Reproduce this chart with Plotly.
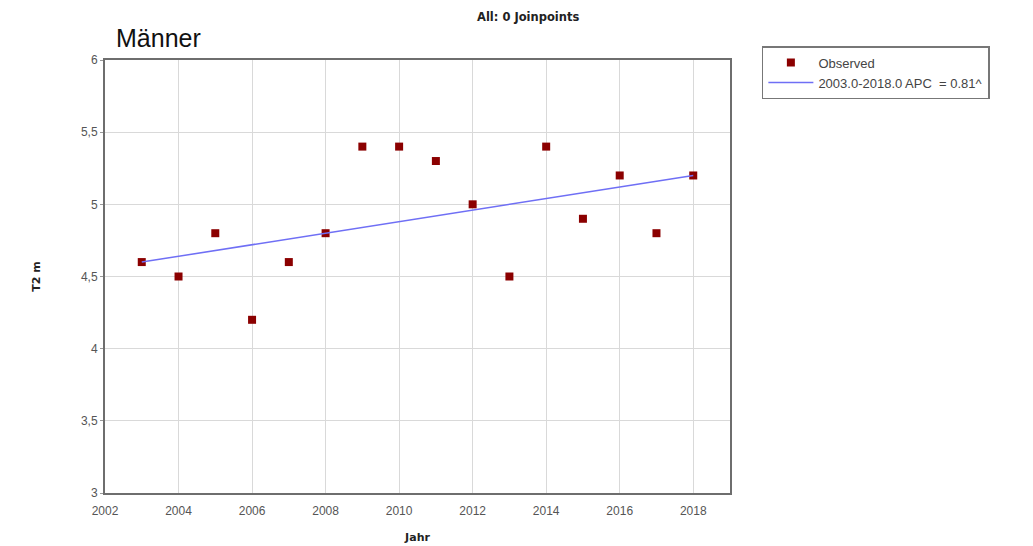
import plotly.graph_objects as go

# Observed values per year
years = [2003, 2004, 2005, 2006, 2007, 2008, 2009, 2010,
         2011, 2012, 2013, 2014, 2015, 2016, 2017, 2018]
observed = [4.6, 4.5, 4.8, 4.2, 4.6, 4.8, 5.4, 5.4,
            5.3, 5.0, 4.5, 5.4, 4.9, 5.2, 4.8, 5.2]

# Fitted segment (0 joinpoints)
fit_years = [2003, 2018]
fit_values = [4.60, 5.20]
fit_label = "2003.0-2018.0 APC  = 0.81^"

x_ticks = list(range(2002, 2019, 2))
y_ticks = [3, 3.5, 4, 4.5, 5, 5.5, 6]
y_tick_text = ["3", "3,5", "4", "4,5", "5", "5,5", "6"]

fig = go.Figure()
fig.add_trace(go.Scatter(
    x=years, y=observed, mode="markers", name="Observed",
    marker=dict(symbol="square", size=8, color="#8b0000"),
))
fig.add_trace(go.Scatter(
    x=fit_years, y=fit_values, mode="lines", name=fit_label,
    line=dict(color="#6f6ff5", width=1.5),
))

tick_font = dict(family="Liberation Sans, Arial", size=12, color="#555")
bold_font = dict(family="DejaVu Sans", size=11, color="#222")

fig.update_layout(
    width=1033, height=546,
    margin=dict(l=105, r=303, t=60, b=53),
    paper_bgcolor="white", plot_bgcolor="white",
    showlegend=True,
    legend=dict(
        x=1.051, y=1.032, xanchor="left", yanchor="top",
        bordercolor="#777", borderwidth=1.5, bgcolor="white",
        font=dict(family="Liberation Sans, Arial", size=13, color="#444"),
        tracegroupgap=0, itemwidth=45,
    ),
    xaxis=dict(
        range=[2002, 2019], tickvals=x_ticks, ticks="",
        ticklabelstandoff=6, automargin=False,
        showgrid=True, gridcolor="#d9d9d9", gridwidth=1.2,
        showline=True, linecolor="#6e6e6e", linewidth=2, mirror=True,
        tickfont=tick_font, zeroline=False,
        title=dict(text="<b>Jahr</b>", font=bold_font, standoff=16),
    ),
    yaxis=dict(
        range=[3, 6], tickvals=y_ticks, ticktext=y_tick_text,
        ticks="outside", ticklen=3, tickcolor="#999", automargin=False,
        showgrid=True, gridcolor="#d9d9d9", gridwidth=1.2,
        showline=True, linecolor="#6e6e6e", linewidth=2, mirror=True,
        tickfont=tick_font, zeroline=False,
        title=dict(text="<b>T2 m</b>", font=bold_font, standoff=38),
    ),
    annotations=[
        dict(text="<b>All: 0 Joinpoints</b>", xref="paper", yref="paper",
             x=0.677, y=1.099, xanchor="center", yanchor="middle",
             showarrow=False, font=dict(family="DejaVu Sans", size=11.5, color="#222")),
        dict(text="Männer", xref="paper", yref="paper",
             x=0.014, y=1.05, xanchor="left", yanchor="middle",
             showarrow=False, font=dict(family="Liberation Sans, Arial", size=25, color="#111")),
    ],
)

fig.write_html("out.html")
